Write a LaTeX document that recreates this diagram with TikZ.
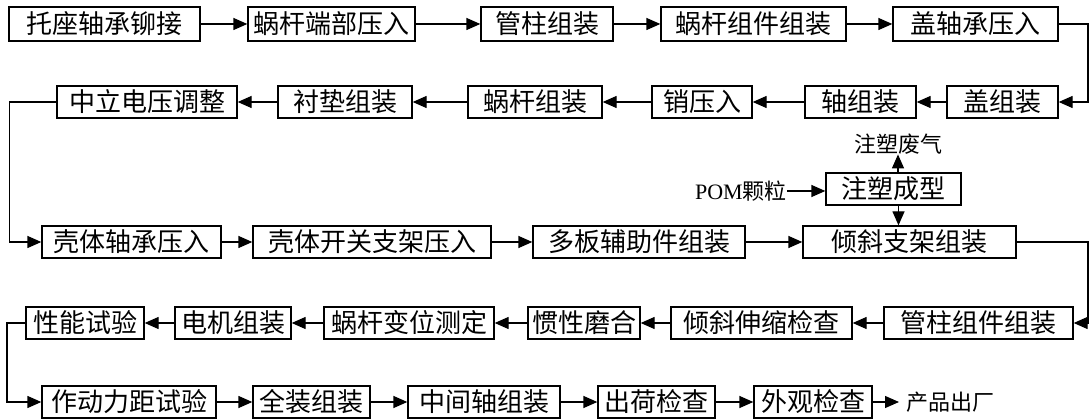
\documentclass[tikz,border=0pt]{standalone}
\usepackage{fontspec}
\setmainfont{Liberation Serif}
\newfontfamily\cjk{Noto Sans CJK SC}
\usetikzlibrary{arrows.meta}
\tikzset{
  box/.style={draw, line width=1.3pt, inner sep=0pt, minimum height=32pt,
    font=\cjk\fontsize{26}{26}\selectfont, anchor=center},
  lbl/.style={inner sep=0pt, font=\cjk\fontsize{22}{22}\selectfont},
  arr/.style={line width=1.3pt, -{Triangle[length=14pt,width=12pt]}},
}
\begin{document}
\begin{tikzpicture}[x=1pt,y=-1pt]
\useasboundingbox (0,0) rectangle (1089,419);
% row 1
\node[box,minimum width=191pt,minimum height=34pt] (a1) at (104.5,24) {托座轴承铆接};
\node[box,minimum width=167pt,minimum height=34pt] (a2) at (331.5,24) {蜗杆端部压入};
\node[box,minimum width=132pt,minimum height=34pt] (a3) at (547,24) {管柱组装};
\node[box,minimum width=185pt,minimum height=34pt] (a4) at (753.5,24) {蜗杆组件组装};
\node[box,minimum width=165pt,minimum height=34pt] (a5) at (975.5,24) {盖轴承压入};
% row 2
\node[box,minimum width=180pt] (b1) at (147,102) {中立电压调整};
\node[box,minimum width=134pt] (b2) at (345,102) {衬垫组装};
\node[box,minimum width=134pt] (b3) at (535,102) {蜗杆组装};
\node[box,minimum width=100pt] (b4) at (702,102) {销压入};
\node[box,minimum width=111pt] (b5) at (860.5,102) {轴组装};
\node[box,minimum width=111pt] (b6) at (1002.5,102) {盖组装};
% row 3
\node[box,minimum width=179pt] (c1) at (131.5,242) {壳体轴承压入};
\node[box,minimum width=238pt] (c2) at (372,242) {壳体开关支架压入};
\node[box,minimum width=212pt] (c3) at (639,242) {多板辅助件组装};
\node[box,minimum width=213pt] (c4) at (909.5,242) {倾斜支架组装};
\node[box,minimum width=135pt] (m) at (893.5,189) {注塑成型};
\node[lbl] (waste) at (898,144) {注塑废气};
\node[lbl,anchor=east] (pom) at (787,191) {\fontsize{22}{22}\selectfont\rmfamily POM{\cjk 颗粒}};
% row 4
\node[box,minimum width=118pt] (d1) at (85,323) {性能试验};
\node[box,minimum width=116pt] (d2) at (233,323) {电机组装};
\node[box,minimum width=170pt] (d3) at (409,323) {蜗杆变位测定};
\node[box,minimum width=112pt] (d4) at (584,323) {惯性磨合};
\node[box,minimum width=181pt] (d5) at (761.5,323) {倾斜伸缩检查};
\node[box,minimum width=189pt] (d6) at (978.5,323) {管柱组件组装};
% row 5
\node[box,minimum width=174pt] (e1) at (129,402) {作动力距试验};
\node[box,minimum width=117pt] (e2) at (311.5,402) {全装组装};
\node[box,minimum width=152pt] (e3) at (484,402) {中间轴组装};
\node[box,minimum width=117pt] (e4) at (656.5,402) {出荷检查};
\node[box,minimum width=118pt] (e5) at (813,402) {外观检查};
\node[lbl,anchor=west,inner xsep=7pt] (out) at (899,402) {产品出厂};
% turn coordinates
\coordinate (R) at (1088,0);
\coordinate (L1) at (9.3,0);
\coordinate (L2) at (7,0);
% row 1 arrows
\draw[arr] (a1) -- (a2);
\draw[arr] (a2) -- (a3);
\draw[arr] (a3) -- (a4);
\draw[arr] (a4) -- (a5);
\draw[arr] (a5.east) -- (a5.east -| R) |- (b6.east);
% row 2 arrows
\draw[arr] (b6) -- (b5);
\draw[arr] (b5) -- (b4);
\draw[arr] (b4) -- (b3);
\draw[arr] (b3) -- (b2);
\draw[arr] (b2) -- (b1);
\draw[arr] (b1.west) -- (b1.west -| L1) |- (c1.west);
% row 3 arrows
\draw[arr] (c1) -- (c2);
\draw[arr] (c2) -- (c3);
\draw[arr] (c3) -- (c4);
\draw[arr] (pom.east) -- (pom.east -| m.west);
\draw[arr] (waste.south |- m.north) -- (waste.south);
\draw[arr] ([xshift=5pt]m.south) -- ([xshift=5pt]m.south |- c4.north);
\draw[arr] (c4.east) -- (c4.east -| R) |- (d6.east);
% row 4 arrows
\draw[arr] (d6) -- (d5);
\draw[arr] (d5) -- (d4);
\draw[arr] (d4) -- (d3);
\draw[arr] (d3) -- (d2);
\draw[arr] (d2) -- (d1);
\draw[arr] (d1.west) -- (d1.west -| L2) |- (e1.west);
% row 5 arrows
\draw[arr] (e1) -- (e2);
\draw[arr] (e2) -- (e3);
\draw[arr] (e3) -- (e4);
\draw[arr] (e4) -- (e5);
\draw[arr] (e5) -- (out);
\end{tikzpicture}
\end{document}
